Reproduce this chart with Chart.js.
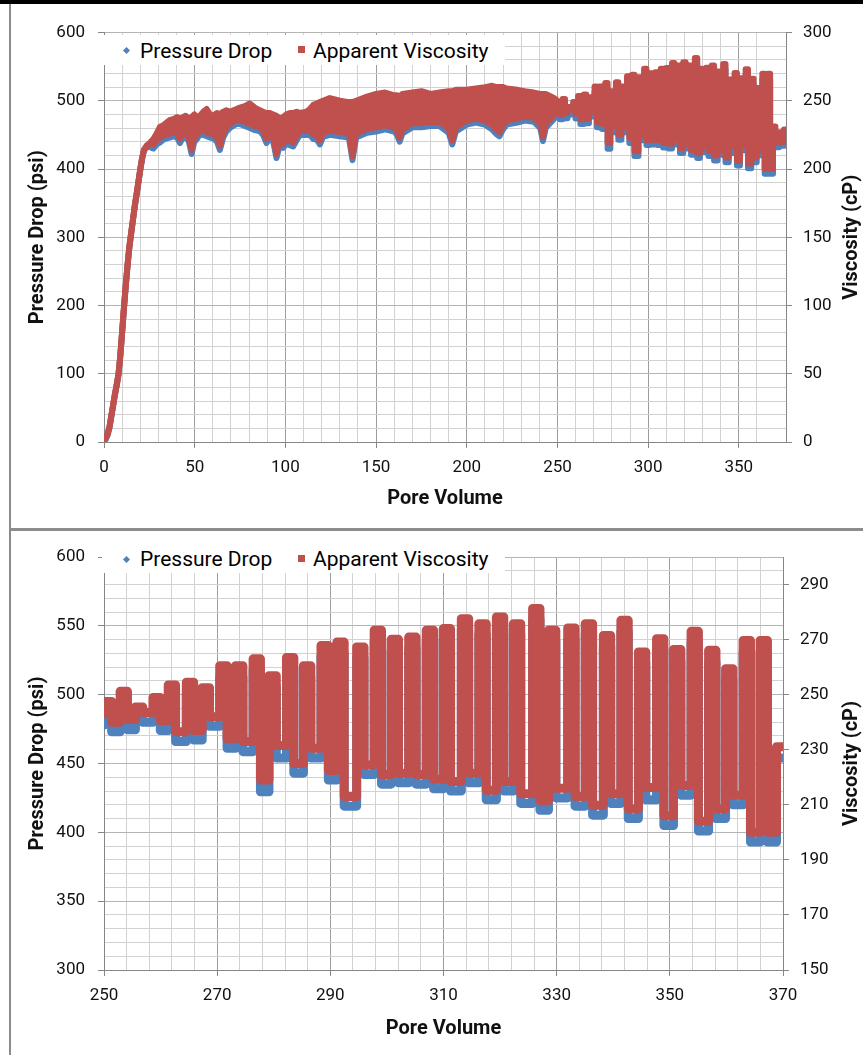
<!DOCTYPE html>
<html lang="en">
<head>
  <meta charset="UTF-8">
  <title>Pressure Drop and Apparent Viscosity vs Pore Volume</title>
  <style>
    * { margin: 0; padding: 0; box-sizing: border-box; }

    body {
      width: 863px;
      height: 1055px;
      overflow: hidden;
      position: relative;
      background: #fff;
      font-family: Roboto, Arial, sans-serif;
      color: #000;
    }

    /* frame lines around the two plots */
    .top-bar { position: absolute; left: 0; top: 0; width: 863px; height: 4px; background: #000; }
    .left-rule { position: absolute; left: 9px; top: 4px; width: 2px; height: 1051px; background: #8c8c8c; }
    .mid-rule { position: absolute; left: 9px; top: 528px; width: 854px; height: 3px; background: #8c8c8c; }

    .chart-box { position: absolute; left: 11px; width: 870px; height: 524px; }
    #topBox { top: 4px; }
    #bottomBox { top: 531px; }

    /* legend sits inside the plot, like Excel does it */
    .legend-box { position: absolute; left: 102px; width: 403px; height: 30px; background: #fff; z-index: 2; }
    .legend-text { position: absolute; font-size: 21px; line-height: 20px; white-space: nowrap; z-index: 3; }
    .diamond { position: absolute; width: 5px; height: 5px; background: #4F81BD; transform: rotate(45deg); z-index: 3; }
    .square { position: absolute; width: 7px; height: 7px; background: #C0504D; z-index: 3; }
  </style>
  <script src="https://cdn.jsdelivr.net/npm/chart.js"></script>
</head>
<body>
  <div class="top-bar"></div>
  <div class="left-rule"></div>
  <div class="mid-rule"></div>

  <div class="chart-box" id="topBox"><canvas id="topChart" width="870" height="524"></canvas></div>
  <div class="chart-box" id="bottomBox"><canvas id="bottomChart" width="870" height="524"></canvas></div>

  <!-- top legend -->
  <div class="legend-box" style="top:35px"></div>
  <div class="diamond" style="left:123.5px; top:47.5px"></div>
  <div class="legend-text" style="left:140px; top:41px">Pressure Drop</div>
  <div class="square" style="left:297.5px; top:46px"></div>
  <div class="legend-text" style="left:313px; top:41px">Apparent Viscosity</div>

  <!-- bottom legend -->
  <div class="legend-box" style="top:543px"></div>
  <div class="diamond" style="left:123.5px; top:556.5px"></div>
  <div class="legend-text" style="left:140px; top:549px">Pressure Drop</div>
  <div class="square" style="left:297.5px; top:555px"></div>
  <div class="legend-text" style="left:313px; top:549px">Apparent Viscosity</div>

  <script>
    // ---- Data ----

    // Start-up ramp and the early band (0 - 250 PV): lower edge of pressure,
    // lower and upper edge of the viscosity band
    const earlyPV = [0, 1, 2, 3, 4, 5, 6, 7, 8, 9, 10, 11, 12, 13, 14, 15, 16, 17, 18, 19, 20, 21, 22,
      23.5, 25.5, 27.2, 29, 30.9, 32.7, 34.5, 36.4, 38.2, 40.3, 41.9, 43.5, 45, 46.8, 48.3, 49.8, 51, 52.9, 54.8, 56.6,
      58.4, 60.2, 62.3, 63.9, 65.7, 67.5, 69.4, 73.1, 74.9, 77.6, 80.4, 83.2, 86, 87.7, 89.6, 91.5, 93.3, 95.1, 97, 98.8,
      100.6, 102.5, 104.3, 106.2, 108, 111.7, 113.5, 115.4, 117.3, 119, 120.8, 124.5,
      130, 135, 137, 139, 145, 150, 155, 160, 161.5, 163, 164.5, 170, 175, 180, 185, 190, 192, 194, 200, 205,
      210, 214, 216, 218, 220, 222, 228, 232, 237, 240.5, 242, 243.5, 248, 250];

    const earlyPressLow = [1, 4, 10, 20, 36, 52, 68, 82, 98, 125, 160, 195, 228, 258, 285, 305, 325, 345, 362, 380, 398, 414, 426,
      433, 432, 430, 436, 439, 443, 445, 446, 448, 446, 438, 446, 448, 440, 422, 440, 443, 451, 450, 448,
      446, 445, 440, 428, 446, 455, 460, 466, 466, 463, 460, 457, 455, 450, 438, 445, 440, 416, 436, 431,
      437, 435, 433, 442, 450, 450, 450, 444, 443, 436, 447, 450,
      448, 446, 413, 446, 453, 455, 458, 455, 450, 440, 452, 461, 461, 463, 463, 453, 436, 455, 465, 468,
      465, 458, 452, 448, 458, 465, 468, 471, 469, 460, 441, 460, 473, 478];

    const earlyViscLow = [1.5, 3, 6, 11, 19, 27, 35, 42, 50, 63.5, 81, 98.5, 115, 130, 143.5, 153.5, 163.5, 173.5, 182, 191, 200, 208, 214,
      217, 219, 218, 221, 222.5, 224.5, 225.5, 226, 227, 226, 222, 226, 227, 223, 214, 223, 224.5, 228.5, 228, 227,
      226, 225.5, 223, 217, 226, 230.5, 233, 236, 236, 234.5, 233, 231.5, 230.5, 228, 222, 225.5, 223, 211, 221, 218.5,
      221.5, 220.5, 219.5, 224, 228, 228, 228, 225, 224.5, 221, 226.5, 228,
      227, 226, 209.5, 226, 229.5, 230.5, 232, 230.5, 228, 223, 229, 233.5, 233.5, 234.5, 234.5, 229.5, 221, 230.5, 235.5, 237,
      235.5, 232, 229, 227, 232, 235.5, 237, 238.5, 237.5, 233, 223.5, 233, 239.5, 242];

    const earlyViscHigh = [1.5, 3, 6, 11, 19, 27, 35, 42, 50, 63.5, 81, 98.5, 115, 130, 143.5, 153.5, 163.5, 173.5, 182, 191, 200, 208, 214,
      217, 219.5, 222, 226, 231, 232, 234, 236, 236.5, 238, 237, 238, 239, 237, 238, 240, 238, 239, 242, 244,
      240, 239, 241, 240, 242, 243, 242, 244, 245, 246, 248, 245, 243, 242, 241, 241, 240, 239, 237, 238,
      240, 241, 241, 242, 241, 242, 244, 247, 248, 249, 250, 252,
      250, 249, 249, 250, 253, 255, 256, 254, 254, 253, 255, 256, 257, 255, 256, 257, 257, 258, 258, 259,
      260, 261, 260, 260, 260, 259, 258, 257, 256, 255, 255, 255, 252, 250];

    // Oscillating part (250 - 376 PV), one entry per pressure cycle:
    // where the crest starts and ends, crest values and the trough that follows
    const oscStartPV = 250;
    const oscStartPress = 478;
    const oscStartVisc = 243;

    const cycleRisePV = [250.05, 252.85, 255.55, 258.65, 261.35, 264.55, 267.35, 270.45, 273.25, 276.35,
      279.15, 282.25, 285.25, 288.35, 291.15, 294.65, 297.75, 300.75, 303.85, 306.95,
      309.95, 313.15, 316.25, 319.35, 322.35, 325.75, 328.55, 331.95, 335.05, 338.25,
      341.35, 344.45, 347.65, 350.65, 353.75, 356.85, 359.85, 362.95, 365.95, 368.85, 372.25, 374.9];
    const cycleFallPV = [251.35, 254.15, 256.85, 259.95, 262.65, 265.85, 268.65, 271.75, 274.55, 277.65,
      280.45, 283.55, 286.55, 289.65, 292.45, 295.95, 299.05, 302.05, 305.15, 308.25,
      311.25, 314.45, 317.55, 320.65, 323.65, 327.05, 329.85, 333.25, 336.35, 339.55,
      342.65, 345.75, 348.95, 351.95, 355.05, 358.15, 361.15, 364.25, 367.25, 370.15, 373.55, 376.2];

    const pressPeak = [487, 494, 483, 490, 499, 501, 497, 513, 513, 518,
      506, 519, 513, 528, 530, 527, 539, 532, 534, 539,
      540, 547, 544, 548, 544, 555, 539, 540, 544, 535,
      546, 523, 533, 525, 538, 524, 511, 531, 531, 454, 446, 450];
    const pressTrough = [473, 474.5, 480, 474, 466, 467, 477, 461, 458.6, 429.5,
      454, 443, 454, 438, 419, 442, 435, 436, 435, 431.6,
      430, 436, 423.6, 430, 421, 416, 425, 419, 412.5, 421,
      410, 423.6, 405, 427, 401, 410, 420, 393, 393, 432, 434, 442];

    const viscPeak = [247.5, 251.2, 245.5, 249.0, 253.5, 254.5, 252.5, 260.5, 260.5, 263.0,
      256.9, 263.5, 260.5, 267.9, 269.1, 267.3, 273.4, 270.1, 270.9, 273.4,
      274.0, 277.6, 275.8, 278.2, 275.8, 281.3, 273.4, 274.2, 275.8, 271.5,
      277.0, 265.5, 270.3, 266.4, 273.0, 266.1, 259.4, 269.7, 269.7, 231.1, 227, 229];
    const viscTrough = [240, 241, 243.5, 240.5, 236.5, 237, 242, 234, 233, 219,
      231.5, 225, 230.5, 222.5, 213, 224.5, 221, 221.5, 221, 219.3,
      218.5, 221.5, 215.3, 218.5, 214, 211.5, 216, 213, 209.8, 214,
      208.5, 216.3, 206, 217, 204, 208.5, 213.5, 200, 200, 219, 220, 224];

    // Tick labels of the zoomed chart's right axis
    const bottomViscTicks = [150, 170, 190, 210, 230, 250, 270, 290];

    // ---- Styling ----
    const BLUE = '#4F81BD';
    const RED = '#C0504D';
    const AXIS = '#868686';
    const TEXT = '#111';
    const V_MAJOR = '#9c9c9c', V_MINOR = '#d2d2d2';
    const H_MAJOR = '#b4b4b4', H_MINOR = '#d2d2d2';
    const tickFont = { family: 'Roboto', size: 17 };
    const titleFont = { family: 'Roboto', size: 20, weight: 'bold' };

    function pairs(xs, ys) {
      return xs.map((x, i) => ({ x: x, y: ys[i] }));
    }

    // each cycle: steep rise to the crest, short crest, steep drop to the trough
    function cycleSeries(startVal, peaks, troughs) {
      const pts = [{ x: oscStartPV, y: startVal }];
      let level = startVal;
      cycleRisePV.forEach((rise, i) => {
        const fall = cycleFallPV[i];
        pts.push({ x: rise, y: level }, { x: rise, y: peaks[i] }, { x: fall, y: peaks[i] }, { x: fall, y: troughs[i] });
        level = troughs[i];
      });
      return pts;
    }

    function isMajor(v, origin, step) {
      return Math.abs((v - origin) % step) < 1e-6;
    }

    function lineSet(data, color, width, axis, order, extra) {
      return Object.assign({
        data: data,
        yAxisID: axis,
        showLine: true,
        borderColor: color,
        backgroundColor: color,
        borderWidth: width,
        borderJoinStyle: 'round',
        borderCapStyle: 'round',
        pointRadius: 0,
        pointHoverRadius: 0,
        tension: 0,
        fill: false,
        order: order
      }, extra || {});
    }

    // Right-hand axis title reads bottom-to-top like the left one
    const rightTitle = {
      id: 'rightTitle',
      afterDraw(chart, args, opts) {
        const { ctx, chartArea } = chart;
        ctx.save();
        ctx.translate(opts.x, (chartArea.top + chartArea.bottom) / 2);
        ctx.rotate(-Math.PI / 2);
        ctx.font = 'bold 20px Roboto';
        ctx.fillStyle = TEXT;
        ctx.textAlign = 'center';
        ctx.textBaseline = 'middle';
        ctx.fillText(opts.text, 0, 0);
        ctx.restore();
      }
    };

    function buildScales(cfg) {
      return {
        x: {
          type: 'linear',
          min: cfg.xMin, max: cfg.xMax,
          afterFit: s => { s.height = cfg.xHeight; },
          border: { display: true, color: AXIS },
          grid: {
            color: c => c.tick && isMajor(c.tick.value, cfg.xMin, cfg.xMajor) ? V_MAJOR : V_MINOR,
            tickColor: c => c.tick && isMajor(c.tick.value, cfg.xMin, cfg.xMajor) ? AXIS : 'rgba(0,0,0,0)',
            tickLength: 6
          },
          ticks: {
            stepSize: cfg.xStep, autoSkip: false, maxRotation: 0, padding: 10,
            color: TEXT, font: tickFont,
            callback: v => isMajor(v, cfg.xMin, cfg.xMajor) ? v : ''
          },
          title: { display: true, text: 'Pore Volume', color: TEXT, font: titleFont, padding: { top: 0, bottom: cfg.xTitlePad } }
        },
        yP: {
          type: 'linear', position: 'left',
          min: cfg.pMin, max: cfg.pMax,
          afterFit: s => { s.width = 93; },
          border: { display: true, color: AXIS },
          grid: {
            color: c => c.tick && isMajor(c.tick.value, cfg.pMin, cfg.pMajor) ? H_MAJOR : H_MINOR,
            tickColor: c => c.tick && isMajor(c.tick.value, cfg.pMin, cfg.pMajor) ? AXIS : 'rgba(0,0,0,0)',
            tickLength: 6
          },
          ticks: {
            stepSize: cfg.pStep, autoSkip: false, padding: 13,
            color: TEXT, font: tickFont,
            callback: v => isMajor(v, cfg.pMin, cfg.pMajor) ? v : ''
          },
          title: { display: true, text: 'Pressure Drop (psi)', color: TEXT, font: titleFont, padding: { top: 15, bottom: 0 } }
        },
        yV: {
          type: 'linear', position: 'right',
          min: cfg.vMin, max: cfg.vMax,
          afterFit: s => { s.width = cfg.rightWidth; },
          afterBuildTicks: cfg.vTicks ? s => { s.ticks = cfg.vTicks.map(v => ({ value: v })); } : undefined,
          border: { display: true, color: AXIS },
          grid: { drawOnChartArea: false, color: AXIS, tickColor: AXIS, tickLength: 6 },
          ticks: { stepSize: cfg.vStep, autoSkip: false, padding: 11, color: TEXT, font: tickFont }
        }
      };
    }

    const commonPlugins = {
      legend: { display: false },
      tooltip: { enabled: false },
      rightTitle: { text: 'Viscosity (cP)', x: 841 }
    };

    // ---- Full run, 0 - 376 PV ----
    new Chart(document.getElementById('topChart'), {
      type: 'scatter',
      data: {
        datasets: [
          lineSet(pairs(earlyPV, earlyPressLow), BLUE, 6, 'yP', 2),
          lineSet(cycleSeries(oscStartPress, pressPeak, pressTrough), BLUE, 6, 'yP', 2),
          lineSet(pairs(earlyPV, earlyViscLow), RED, 6, 'yV', 1),
          lineSet(pairs(earlyPV, earlyViscHigh), RED, 6, 'yV', 1, { fill: '-1' }),
          lineSet(cycleSeries(oscStartVisc, viscPeak, viscTrough), RED, 6, 'yV', 1)
        ]
      },
      options: {
        responsive: false,
        animation: false,
        devicePixelRatio: 1,
        layout: { padding: { top: 28.5, left: 0, right: 0, bottom: 0 } },
        scales: buildScales({
          xMin: 0, xMax: 376, xStep: 10, xMajor: 50, xHeight: 86, xTitlePad: 16.6,
          pMin: 0, pMax: 600, pStep: 20, pMajor: 100,
          vMin: 0, vMax: 300, vStep: 50, rightWidth: 95
        }),
        plugins: commonPlugins
      },
      plugins: [rightTitle]
    });

    // ---- Zoom on 250 - 370 PV ----
    new Chart(document.getElementById('bottomChart'), {
      type: 'scatter',
      data: {
        datasets: [
          lineSet(cycleSeries(oscStartPress, pressPeak, pressTrough), BLUE, 9, 'yP', 2),
          lineSet(cycleSeries(oscStartVisc, viscPeak, viscTrough), RED, 9, 'yV', 1)
        ]
      },
      options: {
        responsive: false,
        animation: false,
        devicePixelRatio: 1,
        layout: { padding: { top: 26, left: 0, right: 0, bottom: 0 } },
        scales: buildScales({
          xMin: 250, xMax: 370, xStep: 4, xMajor: 20, xHeight: 85, xTitlePad: 14,
          pMin: 300, pMax: 600, pStep: 10, pMajor: 50,
          vMin: 150, vMax: 300, vStep: 20, vTicks: bottomViscTicks, rightWidth: 98
        }),
        plugins: commonPlugins
      },
      plugins: [rightTitle]
    });
  </script>
</body>
</html>
